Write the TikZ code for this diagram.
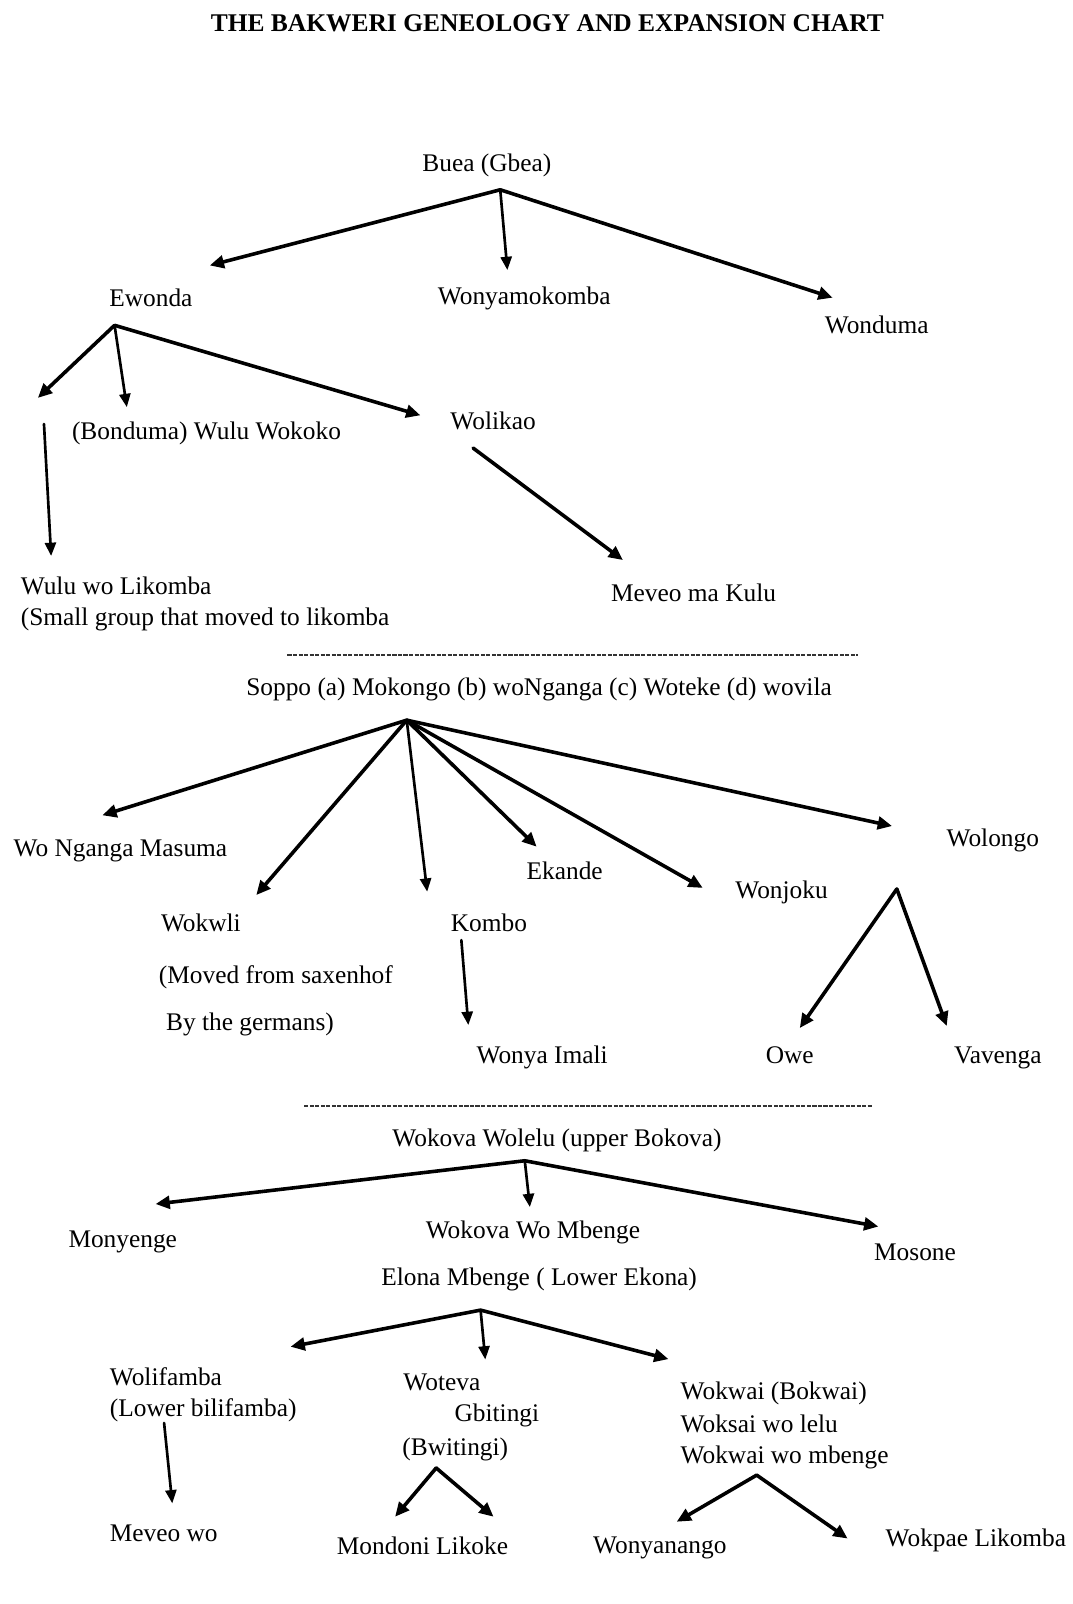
\documentclass[tikz,border=0pt]{standalone}
\usepackage{fontspec}
\setmainfont{Liberation Serif}
\usetikzlibrary{arrows.meta}
\begin{document}
\begin{tikzpicture}[x=0.5pt,y=-0.5pt,
  lbl/.style={inner sep=0pt, font=\fontsize{12.4}{15}\selectfont, text=black},
  ttl/.style={inner sep=0pt, font=\bfseries\fontsize{12.45}{15}\selectfont, text=black},
  arrA/.style={line width=1.75pt, line cap=round, -{Triangle[length=7pt,width=6.2pt]}},
  arrB/.style={line width=1.3pt, line cap=round, -{Triangle[length=6.5pt,width=5.4pt]}},
  sep/.style={line width=0.75pt, draw=black!80, dash pattern=on 2pt off 0.7pt}
]
\useasboundingbox (0,0) rectangle (1048,1568);
\fill[white] (0,0) rectangle (1048,1568);

% ---------- texts ----------
\node[ttl,anchor=base] (title) at (535,31) {THE BAKWERI GENEOLOGY AND EXPANSION CHART};

\node[lbl,anchor=base] (buea) at (476,167.5) {Buea (Gbea)};
\node[lbl,anchor=base] (ewonda) at (147.5,300) {Ewonda};
\node[lbl,anchor=base] (wonyam) at (512.5,298) {Wonyamokomba};
\node[lbl,anchor=base] (wonduma) at (857,326.5) {Wonduma};
\node[lbl,anchor=base west] (bonduma) at (70,430) {(Bonduma) Wulu Wokoko};
\node[lbl,anchor=base] (wolikao) at (482,420) {Wolikao};
\node[lbl,anchor=base west] (wulu) at (20,581) {Wulu wo Likomba};
\node[lbl,anchor=base west] (wulu2) at (20,611.5) {(Small group that moved to likomba};
\node[lbl,anchor=base west] (meveo) at (597,588) {Meveo ma Kulu};

\node[lbl,anchor=base] (soppo) at (527,679.5) {Soppo (a) Mokongo (b) woNganga (c) Woteke (d) wovila};
\node[lbl,anchor=base west] (wonganga) at (13,837.5) {Wo Nganga Masuma};
\node[lbl,anchor=base west] (wokwli) at (157,911) {Wokwli};
\node[lbl,anchor=base west] (wokwli2) at (155,961) {(Moved from saxenhof};
\node[lbl,anchor=base west] (wokwli3) at (162,1007) {By the germans)};
\node[lbl,anchor=base] (kombo) at (478,911) {Kombo};
\node[lbl,anchor=base] (ekande) at (552,860) {Ekande};
\node[lbl,anchor=base] (wonjoku) at (764,878) {Wonjoku};
\node[lbl,anchor=base] (wolongo) at (970.5,827.5) {Wolongo};
\node[lbl,anchor=base] (wonyaimali) at (530,1039.5) {Wonya Imali};
\node[lbl,anchor=base] (owe) at (772,1039.5) {Owe};
\node[lbl,anchor=base] (vavenga) at (975.5,1039.5) {Vavenga};

\node[lbl,anchor=base] (wokova) at (544.5,1121) {Wokova Wolelu (upper Bokova)};
\node[lbl,anchor=base] (monyenge) at (120,1219) {Monyenge};
\node[lbl,anchor=base] (wokovawo) at (521,1211) {Wokova Wo Mbenge};
\node[lbl,anchor=base] (mosone) at (894.5,1232.5) {Mosone};
\node[lbl,anchor=base] (elona) at (527,1257) {Elona Mbenge ( Lower Ekona)};
\node[lbl,anchor=base west] (wolifamba) at (107,1354) {Wolifamba};
\node[lbl,anchor=base west] (wolifamba2) at (107,1385) {(Lower bilifamba)};
\node[lbl,anchor=base west] (woteva) at (394,1359.5) {Woteva};
\node[lbl,anchor=base west] (gbitingi) at (444,1390) {Gbitingi};
\node[lbl,anchor=base west] (bwitingi) at (393,1423) {(Bwitingi)};
\node[lbl,anchor=base west] (wokwai) at (665,1368.5) {Wokwai (Bokwai)};
\node[lbl,anchor=base west] (woksai) at (665,1400) {Woksai wo lelu};
\node[lbl,anchor=base west] (wokwai2) at (665,1431) {Wokwai wo mbenge};
\node[lbl,anchor=base] (meveowo) at (160,1507) {Meveo wo};
\node[lbl,anchor=base] (mondoni) at (413,1520) {Mondoni Likoke};
\node[lbl,anchor=base] (wonyanango) at (645,1519) {Wonyanango};
\node[lbl,anchor=base] (wokpae) at (954,1512) {Wokpae Likomba};

% ---------- connector end points ----------
\coordinate (bueaF) at (489,185.5);
\coordinate (ewondaT) at (205,259.5);
\coordinate (wonyamT) at (496,264);
\coordinate (wondumaT) at (814,291);
\coordinate (ewondaF) at (112,318);
\coordinate (leftT) at (37,389);
\coordinate (bondumaT) at (124,398);
\coordinate (wolikaoT) at (411,406);
\coordinate (wuluS) at (43,414.5);
\coordinate (wuluT) at (50,543.5);
\coordinate (wolikaoS) at (462.5,438);
\coordinate (meveoT) at (609,547.5);

\coordinate (soppoF) at (397.6,704);
\coordinate (wongangaT) at (100,797);
\coordinate (wokwliT) at (250.5,875);
\coordinate (komboT) at (417.6,871.7);
\coordinate (ekandeT) at (524.6,827.7);
\coordinate (wonjokuT) at (687,868);
\coordinate (wolongoT) at (872,807.5);
\coordinate (komboS) at (451,919);
\coordinate (wonyaimaliT) at (457.8,1002);
\coordinate (wolongoF) at (876.7,869);
\coordinate (oweT) at (781.8,1005);
\coordinate (vavengaT) at (925.5,1003);

\coordinate (wokovaF) at (513,1134.7);
\coordinate (monyengeT) at (152,1177);
\coordinate (wokovawoT) at (518,1180);
\coordinate (mosoneT) at (858.7,1199);
\coordinate (elonaF) at (469.8,1280.7);
\coordinate (wolifambaT) at (284,1316.5);
\coordinate (wotevaT) at (474.4,1329);
\coordinate (wokwaiT) at (653.5,1328.6);
\coordinate (wolifambaS) at (160.4,1391);
\coordinate (meveowoT) at (168.4,1469.6);
\coordinate (wotevaF) at (426.4,1435);
\coordinate (mondoniT) at (386.2,1482.7);
\coordinate (mondoniT2) at (482.5,1482.7);
\coordinate (wokwaiF) at (739.7,1442);
\coordinate (wonyanangoT) at (661.5,1487.6);
\coordinate (wokpaeT) at (828.6,1504);

% ---------- connectors ----------
\draw[arrA] (bueaF) -- (ewondaT);
\draw[arrB] (bueaF) -- (wonyamT);
\draw[arrA] (bueaF) -- (wondumaT);
\draw[arrA] (ewondaF) -- (leftT);
\draw[arrB] (ewondaF) -- (bondumaT);
\draw[arrA] (ewondaF) -- (wolikaoT);
\draw[arrB] (wuluS) -- (wuluT);
\draw[arrA] (wolikaoS) -- (meveoT);

\draw[arrA] (soppoF) -- (wongangaT);
\draw[arrA] (soppoF) -- (wokwliT);
\draw[arrB] (soppoF) -- (komboT);
\draw[arrA] (soppoF) -- (ekandeT);
\draw[arrA] (soppoF) -- (wonjokuT);
\draw[arrA] (soppoF) -- (wolongoT);
\draw[arrB] (komboS) -- (wonyaimaliT);
\draw[arrA] (wolongoF) -- (oweT);
\draw[arrA] (wolongoF) -- (vavengaT);

\draw[arrA] (wokovaF) -- (monyengeT);
\draw[arrB] (wokovaF) -- (wokovawoT);
\draw[arrA] (wokovaF) -- (mosoneT);
\draw[arrA] (elonaF) -- (wolifambaT);
\draw[arrB] (elonaF) -- (wotevaT);
\draw[arrA] (elonaF) -- (wokwaiT);
\draw[arrB] (wolifambaS) -- (meveowoT);
\draw[arrA] (wotevaF) -- (mondoniT);
\draw[arrA] (wotevaF) -- (mondoniT2);
\draw[arrA] (wokwaiF) -- (wonyanangoT);
\draw[arrA] (wokwaiF) -- (wokpaeT);

% ---------- separators ----------
\draw[sep] (281,640.4) -- (839,640.4);
\draw[sep] (297.4,1081) -- (852,1081);
\end{tikzpicture}
\end{document}
